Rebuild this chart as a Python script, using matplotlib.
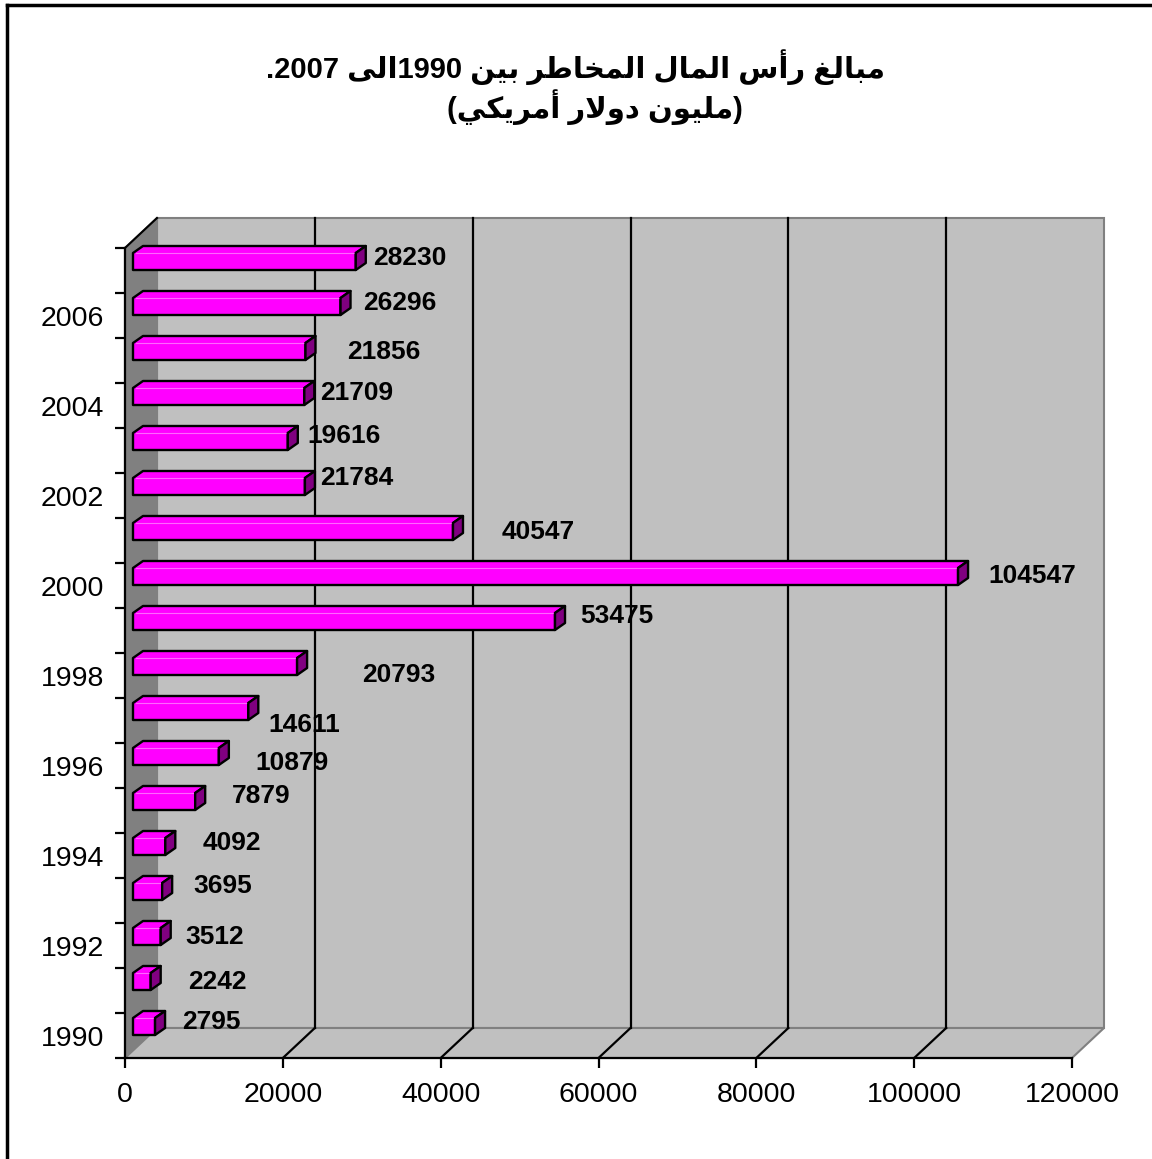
import re
import numpy as np
import matplotlib
matplotlib.use("Agg")
import matplotlib.pyplot as plt
from matplotlib.patches import Polygon
from matplotlib.lines import Line2D

plt.rcParams['font.family'] = ['Liberation Sans', 'DejaVu Sans']

years = list(range(1990, 2008))
values = [2795, 2242, 3512, 3695, 4092, 7879, 10879, 14611, 20793,
          53475, 104547, 40547, 21784, 19616, 21709, 21856, 26296, 28230]
# hand-placed data label nudges (pixels, x right / y up)
label_nudge = [(17, 1), (27, -4), (15, -4), (21, 2), (27, 0), (27, 2),
               (27, -10), (10, -17), (55, -12), (15, 2), (20, -3), (39, -4),
               (5, 5), (10, 2), (6, 0), (32, -4), (13, 0), (7, 0)]
xticks = [0, 20000, 40000, 60000, 80000, 100000, 120000]

title_1 = "مبالغ رأس المال المخاطر بين 1990الى 2007."
title_2 = "(مليون دولار أمريكي)"

# --- minimal arabic shaping: (isolated, final, initial, medial)
FORMS = {
    'ا': ('\uFE8D', '\uFE8E', None, None),
    'أ': ('\uFE83', '\uFE84', None, None),
    'د': ('\uFEA9', '\uFEAA', None, None),
    'ر': ('\uFEAD', '\uFEAE', None, None),
    'و': ('\uFEED', '\uFEEE', None, None),
    'ى': ('\uFEEF', '\uFEF0', None, None),
    'ب': ('\uFE8F', '\uFE90', '\uFE91', '\uFE92'),
    'خ': ('\uFEA5', '\uFEA6', '\uFEA7', '\uFEA8'),
    'س': ('\uFEB1', '\uFEB2', '\uFEB3', '\uFEB4'),
    'ط': ('\uFEC1', '\uFEC2', '\uFEC3', '\uFEC4'),
    'غ': ('\uFECD', '\uFECE', '\uFECF', '\uFED0'),
    'ك': ('\uFED9', '\uFEDA', '\uFEDB', '\uFEDC'),
    'ل': ('\uFEDD', '\uFEDE', '\uFEDF', '\uFEE0'),
    'م': ('\uFEE1', '\uFEE2', '\uFEE3', '\uFEE4'),
    'ن': ('\uFEE5', '\uFEE6', '\uFEE7', '\uFEE8'),
    'ي': ('\uFEF1', '\uFEF2', '\uFEF3', '\uFEF4'),
}
LAM_ALEF = {'ا': ('\uFEFB', '\uFEFC'), 'أ': ('\uFEF7', '\uFEF8')}
MIRROR = {'(': ')', ')': '('}


def shape(text):
    out = []
    prev_links = False
    i = 0
    while i < len(text):
        c = text[i]
        nxt = text[i + 1] if i + 1 < len(text) else ''
        if c not in FORMS:
            out.append(c)
            prev_links = False
            i += 1
            continue
        if c == 'ل' and nxt in LAM_ALEF:
            iso, fin = LAM_ALEF[nxt]
            out.append(fin if prev_links else iso)
            prev_links = False
            i += 2
            continue
        iso, fin, ini, med = FORMS[c]
        next_links = ini is not None and nxt in FORMS
        if prev_links and next_links:
            g = med
        elif prev_links:
            g = fin
        elif next_links:
            g = ini
        else:
            g = iso
        out.append(g)
        prev_links = ini is not None
        i += 1
    return ''.join(out)


def visual(text):
    runs = re.findall(r'[0-9]+|[^0-9]+', shape(text))
    parts = []
    for r in reversed(runs):
        if r.isdigit():
            parts.append(r)
        else:
            parts.append(''.join(MIRROR.get(ch, ch) for ch in reversed(r)))
    return ''.join(parts)


W, H = 1152, 1159
fig = plt.figure(figsize=(W / 100, H / 100), dpi=100)

# front plane of the chart in pixels
PX0, PX1, PY0, PY1 = 125, 1072, 1058, 248
ax = fig.add_axes([PX0 / W, (H - PY0) / H, (PX1 - PX0) / W, (PY0 - PY1) / H])
ax.set_xlim(0, 120000)
ax.set_ylim(-0.5, len(years) - 0.5)
ax.patch.set_visible(False)

ux = 120000 / (PX1 - PX0)
uy = len(years) / (PY0 - PY1)


def off(dx, dy):
    return dx * ux, dy * uy


xmax = 120000
ylo, yhi = -0.5, len(years) - 0.5
DX, DY = off(32, 30)

wall_c = '#c0c0c0'
side_c = '#808080'
edge_c = '#808080'

# back wall, side wall and floor
ax.add_patch(Polygon([(DX, ylo + DY), (DX, yhi + DY), (xmax + DX, yhi + DY),
                      (xmax + DX, ylo + DY)], fc=wall_c, ec=edge_c, lw=1.5,
                     clip_on=False, zorder=0))
ax.add_patch(Polygon([(0, ylo), (DX, ylo + DY), (DX, yhi + DY), (0, yhi)],
                     fc=side_c, ec=edge_c, lw=1.5, clip_on=False, zorder=0.5))
ax.add_patch(Polygon([(0, ylo), (DX, ylo + DY), (xmax + DX, ylo + DY),
                      (xmax, ylo)], fc=wall_c, ec=edge_c, lw=1.5,
                     clip_on=False, zorder=0.5))
ax.add_line(Line2D([0, DX], [yhi, yhi + DY], color='black', lw=1.5,
                   clip_on=False, zorder=1))

# gridlines on the back wall and floor
for t in xticks[1:-1]:
    ax.add_line(Line2D([t + DX, t + DX], [ylo + DY, yhi + DY], color='black',
                       lw=1.6, clip_on=False, zorder=1))
    ax.add_line(Line2D([t, t + DX], [ylo, ylo + DY], color='black',
                       lw=1.6, clip_on=False, zorder=1))

# bars
FX, FY = off(8, 9)
BX, BY = off(10, 7)
hh = 8.5 * uy
for i, v in enumerate(values):
    yc = i + FY
    x0, x1 = FX, v + FX
    bot, top = yc - hh, yc + hh
    ax.add_patch(Polygon([(x0, bot), (x0, top), (x0 + BX, top + BY),
                          (x1 + BX, top + BY), (x1, top), (x1, bot)],
                         fc='#ff00ff', ec='black', lw=1.7, joinstyle='round',
                         clip_on=False, zorder=3))
    ax.add_line(Line2D([x0 + 0.3 * BX, x1], [top, top], color='#ff66ff',
                       lw=0.8, clip_on=False, zorder=3.5))
    ax.add_patch(Polygon([(x1, bot), (x1, top), (x1 + BX, top + BY),
                          (x1 + BX, bot + BY)], fc='#800080', ec='black',
                         lw=1.7, joinstyle='round', clip_on=False, zorder=4))
    dx, dy = label_nudge[i]
    ax.annotate(str(v), xy=(x1 + BX, yc + 3.5 * uy), xytext=(dx, dy),
                textcoords='offset pixels', ha='left', va='center',
                fontsize=19, fontweight='bold', zorder=6,
                annotation_clip=False)

# axes
for s in ('top', 'right'):
    ax.spines[s].set_visible(False)
for s in ('left', 'bottom'):
    ax.spines[s].set_linewidth(1.6)
    ax.spines[s].set_zorder(2)

ax.set_xticks(xticks)
ax.set_xticklabels([str(t) for t in xticks])
ax.tick_params(axis='x', length=7.5, width=1.6, pad=10, labelsize=20.5)

ax.set_yticks(np.arange(ylo, yhi + 0.01, 1))
ax.set_yticklabels([])
ax.tick_params(axis='y', which='major', length=7.5, width=1.6)
ax.set_yticks(range(0, len(years), 2), minor=True)
ax.set_yticklabels([str(years[k]) for k in range(0, len(years), 2)], minor=True)
ax.tick_params(axis='y', which='minor', length=0, pad=15, labelsize=20.5)

# title
fig.text(576 / W, 1 - 67 / H, visual(title_1), ha='center', va='center',
         fontsize=21, fontweight='bold')
fig.text(595 / W, 1 - 107 / H, visual(title_2), ha='center', va='center',
         fontsize=21, fontweight='bold')

# chart area border
fig.add_artist(Line2D([7 / W, 7 / W], [0, 1 - 5 / H], color='black', lw=2.5,
                      transform=fig.transFigure))
fig.add_artist(Line2D([7 / W, 1], [1 - 5 / H, 1 - 5 / H], color='black', lw=2.5,
                      transform=fig.transFigure))

fig.savefig('out.png', dpi=100)
